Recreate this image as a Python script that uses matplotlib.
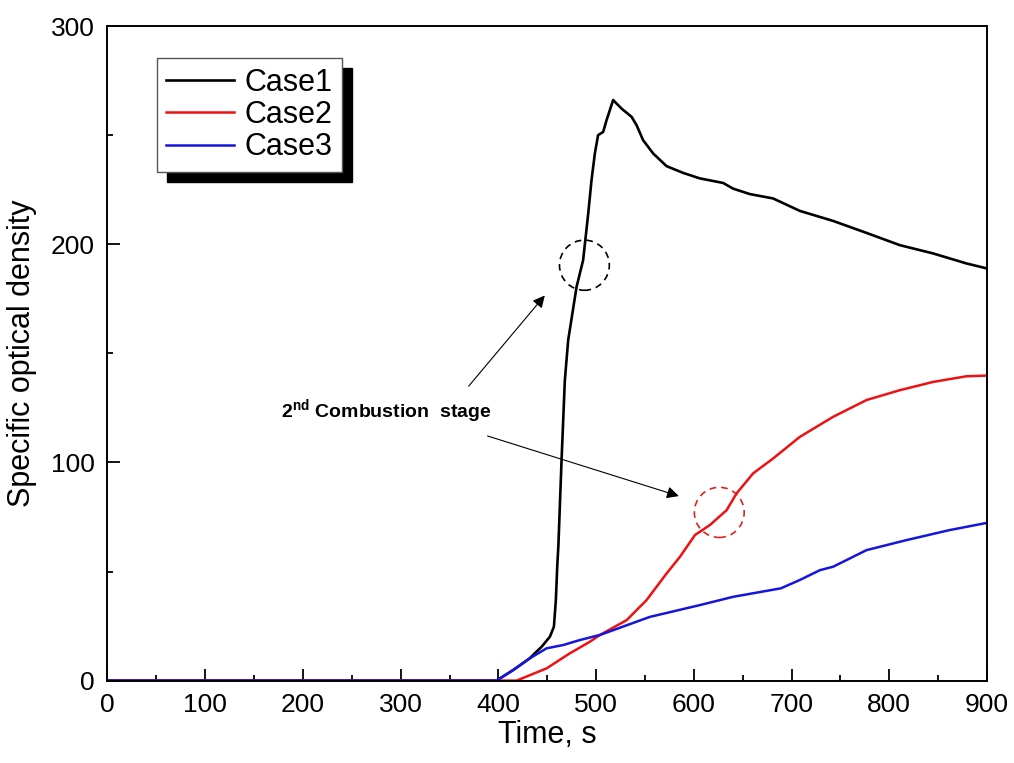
import matplotlib
matplotlib.use("Agg")
import matplotlib.pyplot as plt
from matplotlib.patches import Ellipse, Rectangle

plt.rcParams['font.family'] = ['Liberation Sans', 'DejaVu Sans']
plt.rcParams['mathtext.fontset'] = 'custom'
plt.rcParams['mathtext.rm'] = 'Liberation Sans'
plt.rcParams['mathtext.bf'] = 'Liberation Sans:bold'

# Case1 (black)
case1_t = [0, 398, 415, 432, 444.2, 452.7, 456.8, 458.8, 460.2, 461.4, 464.7, 468, 471.4, 480, 486.7,
           491.9, 495.3, 498.7, 502, 507.2, 510.7, 517.4, 526, 536.3, 541.4, 548.1, 558.4, 572.1, 589.1, 606.1,
           630, 640.2, 657.3, 681.1, 708.4, 742.5, 776.7, 810.7, 844.8, 879, 900]
case1_v = [0, 0, 4.8, 10.2, 15.5, 20.1, 24.7, 36.9, 52.2, 62, 101.8, 137.7, 156, 180.5, 192.7,
           214, 229.4, 241.6, 250, 251.5, 256.9, 266.1, 262.2, 258.4, 254.6, 247.7, 241.6, 235.8, 232.7, 230.2,
           228.1, 225.5, 223, 221, 215.3, 210.7, 205.2, 199.6, 195.8, 191.2, 188.9]

# Case2 (red)
case2_t = [0, 418.6, 449.3, 473.1, 493.6, 503.8, 531.2, 551.6, 572.1, 585.7, 601.1, 616.4, 633.5, 643.7,
           660.7, 681.1, 708.4, 742.5, 776.7, 810.7, 844.8, 879, 900]
case2_v = [0, 0, 5.6, 12.5, 17.8, 20.9, 27.7, 36.9, 49.1, 56.7, 66.7, 71.3, 78.1, 85.8,
           95, 101.8, 111.7, 120.9, 128.6, 133.1, 136.9, 139.5, 139.8]

# Case3 (blue)
case3_t = [0, 398.2, 415.1, 432.2, 449.3, 466.3, 483.4, 503.8, 555, 606.1, 640.2, 689.1, 708.4, 728.9, 742.5,
           776.7, 817.6, 861.8, 900]
case3_v = [0, 0, 4.8, 10.2, 14.8, 16.3, 18.6, 20.9, 29.2, 34.6, 38.4, 42.3, 46.1, 50.6, 52.2,
           59.8, 64.4, 69, 72.3]

fig = plt.figure(figsize=(10.14, 7.63), dpi=100)
ax = fig.add_axes([0.106, 0.108, 0.8674, 0.8578])

ax.plot(case1_t, case1_v, color='black', lw=1.9, label='Case1')
ax.plot(case2_t, case2_v, color='#ee1111', lw=1.8, label='Case2')
ax.plot(case3_t, case3_v, color='#1515dd', lw=1.8, label='Case3')

ax.set_xlim(0, 900)
ax.set_ylim(0, 300)
ax.set_xticks(range(0, 901, 100))
ax.set_xticks(range(50, 900, 100), minor=True)
ax.set_yticks([0, 100, 200, 300])
ax.set_yticks([50, 150, 250], minor=True)
ax.tick_params(which='both', direction='in', top=False, right=False, width=1.3)
ax.tick_params(which='major', length=9, labelsize=19, pad=9)
ax.tick_params(which='minor', length=4.5)
for s in ax.spines.values():
    s.set_linewidth(1.4)

ax.set_xlabel('Time, s', fontsize=22, labelpad=2)
ax.set_ylabel('Specific optical density', fontsize=22, labelpad=10)

# dashed circles
ax.add_patch(Ellipse((488, 190.4), 51, 23, fill=False, ls=(0, (4, 3)), lw=1.2, color='black'))
ax.add_patch(Ellipse((626, 77.1), 51, 23, fill=False, ls=(0, (4, 3)), lw=1.2, color='#dd2222'))

# annotation
ax.text(178, 120.2, r'2$^{\mathbf{nd}}$ Combustion  stage', fontsize=14, fontweight='bold', va='baseline')
arrow = dict(arrowstyle='-|>', color='black', lw=0.8, mutation_scale=18)
ax.annotate('', xy=(449.3, 177.5), xytext=(367.8, 134), arrowprops=arrow)
ax.annotate('', xy=(587.4, 84.2), xytext=(386.2, 112.5), arrowprops=arrow)

leg = ax.legend(loc='upper left', bbox_to_anchor=(0.0566, 0.9507), borderaxespad=0,
                fontsize=22, fancybox=False, framealpha=1, edgecolor='#555555',
                handlelength=2.2, handletextpad=0.35, labelspacing=0.08, borderpad=0.3)
leg.get_frame().set_linewidth(1.0)

# drop shadow behind the legend
fig.canvas.draw()
bb = leg.get_window_extent()
inv = ax.transAxes.inverted()
(x0, y0), (x1, y1) = inv.transform([(bb.x0 + 10, bb.y0 - 10), (bb.x1 + 10, bb.y1 - 10)])
ax.add_patch(Rectangle((x0, y0), x1 - x0, y1 - y0, transform=ax.transAxes,
                       color='black', zorder=4.5, clip_on=False))

fig.savefig('out.png', dpi=100)
